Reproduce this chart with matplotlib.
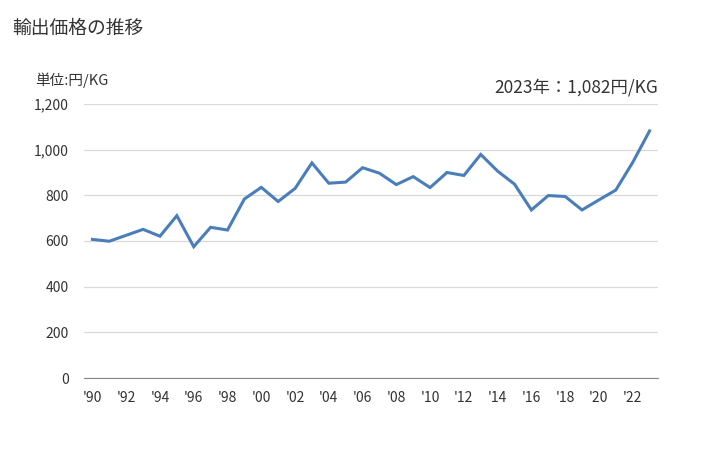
import matplotlib
matplotlib.use("Agg")
import matplotlib.pyplot as plt

plt.rcParams['font.family'] = ['Noto Sans CJK JP', 'DejaVu Sans']

years = list(range(1990, 2024))
values = [607, 599, 625, 651, 621, 711, 575, 660, 648, 784, 835, 773,
          830, 942, 853, 858, 921, 897, 847, 882, 834, 900, 887, 979,
          906, 849, 736, 799, 795, 736, 780, 823, 944, 1082]
xtick_years = list(range(1990, 2023, 2))
xtick_labels = ["'%02d" % (y % 100) for y in xtick_years]
yticks = [0, 200, 400, 600, 800, 1000, 1200]

W, H = 728, 450
fig = plt.figure(figsize=(W/100, H/100), dpi=100)
ax = fig.add_axes([84/W, 1-378/H, (658-84)/W, (378-104)/H])

ax.plot(years, values, color='#4a7ebb', linewidth=2.2, solid_joinstyle='miter')
ax.set_xlim(1989.5, 2023.5)
ax.set_ylim(0, 1200)
ax.set_yticks(yticks)
ax.set_yticklabels([f"{v:,}" for v in yticks])
ax.set_xticks(xtick_years)
ax.set_xticklabels(xtick_labels)
ax.grid(axis='y', color='#d9d9d9', linewidth=0.9)
ax.set_axisbelow(True)
for s in ['top', 'right', 'left']:
    ax.spines[s].set_visible(False)
ax.spines['bottom'].set_color('#888888')
ax.tick_params(axis='both', length=0, labelsize=10, colors='#333333')
ax.tick_params(axis='y', pad=11)
ax.tick_params(axis='x', pad=9)

fig.text(12/W, 1-28/H, '輸出価格の推移', fontsize=13.5, va='center', ha='left', color='#333333')
fig.text(35/W, 1-80/H, '単位:円/KG', fontsize=10.5, va='center', ha='left', color='#333333')
fig.text(658/W, 1-87/H, '2023年：1,082円/KG', fontsize=12.5, va='center', ha='right', color='#333333')

fig.savefig('out.png', dpi=100)
